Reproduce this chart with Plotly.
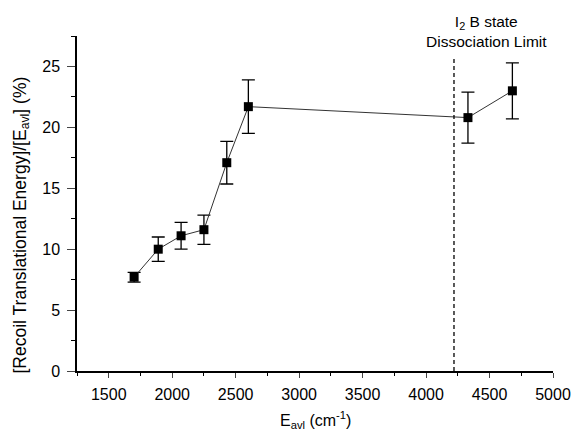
import plotly.graph_objects as go

energy = [1700, 1890, 2070, 2250, 2430, 2600, 4330, 4680]
ratio = [7.7, 10.0, 11.1, 11.6, 17.1, 21.7, 20.8, 23.0]
ratio_err = [0.4, 1.0, 1.1, 1.2, 1.75, 2.2, 2.1, 2.3]
limit_x = 4220
limit_top = 25.7

fig = go.Figure()
fig.add_trace(go.Scatter(
    x=energy, y=ratio, mode="lines+markers",
    line=dict(color="#333333", width=1),
    marker=dict(symbol="square", size=9, color="black"),
    error_y=dict(type="data", array=ratio_err, visible=True, color="black", thickness=1.3, width=6.5),
    showlegend=False,
))
fig.add_trace(go.Scatter(
    x=[limit_x, limit_x], y=[0, limit_top], mode="lines",
    line=dict(color="black", width=1.3, dash="4px,3px"), showlegend=False,
))
fig.add_annotation(x=4480, y=1.0, xref="x", yref="paper", yanchor="bottom",
                   text="I<sub>2</sub> B state<br>Dissociation Limit", showarrow=False,
                   font=dict(size=15.5, color="black"), yshift=-16)
fig.add_annotation(x=0, y=0.5, xref="paper", yref="paper", xanchor="center", yanchor="middle",
                   text="[Recoil Translational Energy]/[E<sub>avl</sub>] (%)", textangle=-90,
                   showarrow=False, font=dict(size=17.5, color="black"), xshift=-56, yshift=-22)
fig.add_annotation(x=0.5, y=0, xref="paper", yref="paper", xanchor="center", yanchor="middle",
                   text="E<sub>avl</sub> (cm<sup>-1</sup>)", showarrow=False,
                   font=dict(size=16, color="black"), yshift=-49)

fig.update_layout(
    width=573, height=432,
    margin=dict(l=77, r=20, t=36, b=61),
    paper_bgcolor="white", plot_bgcolor="white",
    font=dict(family="Liberation Sans", color="black", size=16),
    xaxis=dict(range=[1250, 5000], dtick=500, tick0=1500, ticks="outside", ticklen=5,
               showline=True, linecolor="black", linewidth=1.5, showgrid=False, zeroline=False,
               automargin=False, ticklabelstandoff=3,
               minor=dict(dtick=250, ticks="outside", ticklen=3, tickcolor="black")),
    yaxis=dict(range=[0, 27.5], dtick=5, ticks="outside", ticklen=8,
               showline=True, linecolor="black", linewidth=1.5, showgrid=False, zeroline=False,
               automargin=False, ticklabelstandoff=4,
               minor=dict(dtick=2.5, ticks="outside", ticklen=4, tickcolor="black")),
)
fig.write_html("out.html")
